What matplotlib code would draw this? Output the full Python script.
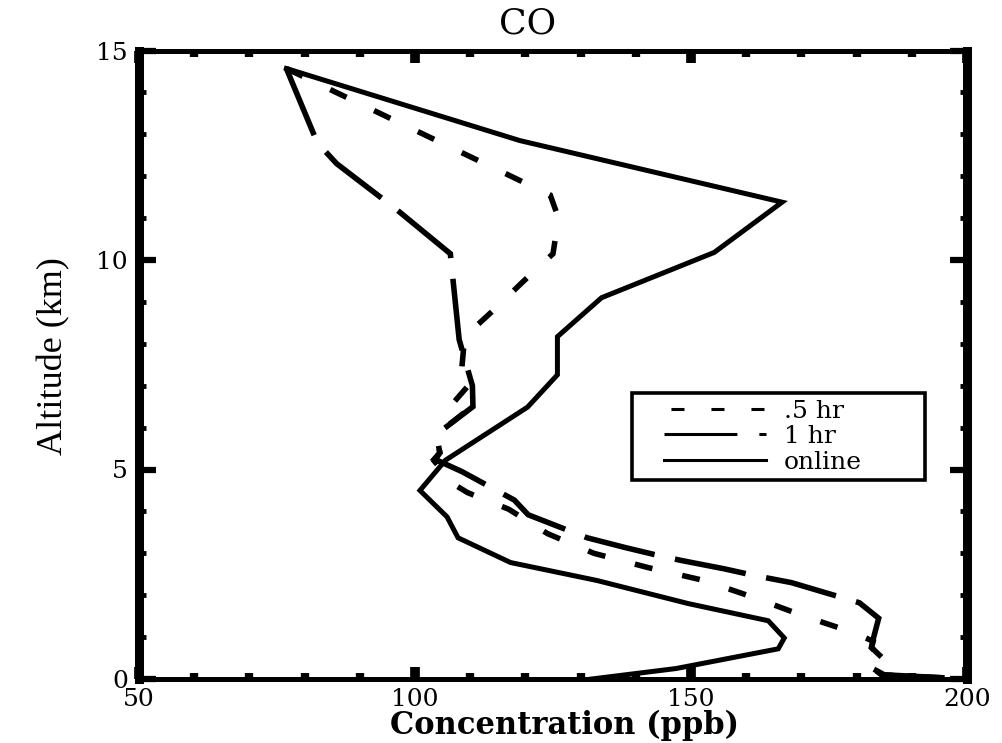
import matplotlib
matplotlib.use("Agg")
import matplotlib.pyplot as plt
from matplotlib.lines import Line2D
from matplotlib.legend_handler import HandlerLine2D
from matplotlib.ticker import MultipleLocator

# CO profiles (concentration in ppb, altitude in km)
alt_half = [14.57, 11.55, 11.0, 10.15, 9.45, 8.8, 8.17, 7.45, 7.35, 7.1, 6.6, 6.5,
            5.95, 5.75, 5.4, 5.2, 4.65, 4.45, 4.05, 3.47, 3.0, 2.66, 2.35, 1.94,
            1.5, 1.1, 0.9, 0.75, 0.5, 0.28, 0.1, 0.0]
co_half = [76.7, 124.5, 126.0, 125.0, 119.3, 114.2, 109.0, 108.5, 110.5, 110.3, 107.0, 110.3,
           105.0, 104.0, 104.5, 103.5, 107.0, 109.5, 117.0, 124.0, 132.4, 142.2, 152.4, 161.5,
           170.5, 179.6, 183.0, 182.7, 184.5, 182.7, 184.5, 200.0]

alt_1hr = [14.57, 12.8, 12.3, 11.2, 10.15, 8.1, 7.0, 6.5, 5.95, 5.75, 5.4, 5.25,
           4.95, 4.27, 3.92, 3.37, 3.14, 2.95, 2.83, 2.63, 2.47, 2.3, 1.82, 1.45,
           0.95, 0.75, 0.5, 0.28, 0.1, 0.0]
co_1hr = [76.7, 82.3, 85.8, 96.7, 106.4, 108.0, 110.4, 110.5, 105.0, 104.0, 104.5, 103.5,
          108.5, 118.0, 120.5, 131.2, 138.0, 144.0, 148.2, 156.0, 161.5, 168.2, 180.5, 184.0,
          183.0, 182.7, 184.7, 182.5, 185.0, 200.0]

alt_online = [14.57, 12.85, 11.38, 10.18, 9.1, 8.17, 7.26, 6.49, 5.22, 4.5, 3.87,
              3.37, 2.78, 2.35, 1.8, 1.39, 0.98, 0.72, 0.25, 0.0]
co_online = [76.7, 119.0, 166.5, 154.2, 133.8, 125.8, 125.8, 120.4, 105.5, 100.9, 105.8,
             107.8, 117.3, 133.0, 149.5, 164.0, 166.9, 165.8, 147.3, 132.0]

labels = [".5 hr", "1 hr", "online"]

plt.rcParams["lines.scale_dashes"] = False
plt.rcParams["font.family"] = ["DejaVu Serif"]

fig = plt.figure(figsize=(10.03, 7.43), dpi=100)
ax = fig.add_axes([139 / 1003, 64 / 743, 828 / 1003, 628.5 / 743])

lw = 4.0
ax.plot(co_half, alt_half, color="black", lw=lw, dashes=(13, 22),
        dash_joinstyle="miter")
ax.plot(co_1hr, alt_1hr, color="black", lw=lw, dashes=(52, 15),
        dash_joinstyle="miter")
ax.plot(co_online, alt_online, color="black", lw=3.6, solid_joinstyle="miter")

ax.set_xlim(50, 200)
ax.set_ylim(0, 15)
ax.xaxis.set_major_locator(MultipleLocator(50))
ax.xaxis.set_minor_locator(MultipleLocator(10))
ax.yaxis.set_major_locator(MultipleLocator(5))
ax.yaxis.set_minor_locator(MultipleLocator(1))

ax.tick_params(which="both", direction="in", top=True, right=True, color="black")
ax.tick_params(axis="x", which="major", width=7, length=8.5, pad=6.5, labelsize=18)
ax.tick_params(axis="x", which="minor", width=6, length=4.5)
ax.tick_params(axis="y", which="major", width=4.5, length=12, pad=8, labelsize=18)
ax.tick_params(axis="y", which="minor", width=3.5, length=5)

for side in ["left", "right"]:
    ax.spines[side].set_linewidth(6.5)
for side in ["top", "bottom"]:
    ax.spines[side].set_linewidth(3.6)

ax.set_title("CO", fontsize=26, x=0.469, pad=12.5)
ax.set_xlabel("Concentration (ppb)", fontsize=22, fontweight="bold")
ax.xaxis.label.set_va("baseline")
ax.xaxis.set_label_coords(0.514, -(734 - 679) / 628.5)
ax.set_ylabel("Altitude (km)", fontsize=26, family=["Liberation Serif"])
ax.yaxis.set_label_coords(-0.083, 0.514)

# legend with thin sample lines
h1 = Line2D([], [], color="black", lw=2.2, linestyle=(23.8, (9.4, 19.4)))
h2 = Line2D([], [], color="black", lw=2.2, linestyle=(0, (52.5, 15.8)))
h3 = Line2D([], [], color="black", lw=2.2)
hmap = {h: HandlerLine2D(xpad=1.04) for h in (h1, h2, h3)}
leg = ax.legend([h1, h2, h3], labels, handler_map=hmap,
                loc="upper left", bbox_to_anchor=(0.595, 0.317, 0.354, 0.138),
                mode="expand", borderaxespad=0, fontsize=18,
                handlelength=5.1, handletextpad=0.72, labelspacing=0.1,
                borderpad=0.26, fancybox=False, framealpha=1,
                edgecolor="black")
leg.get_frame().set_linewidth(2.6)

fig.savefig("out.png", dpi=100)
